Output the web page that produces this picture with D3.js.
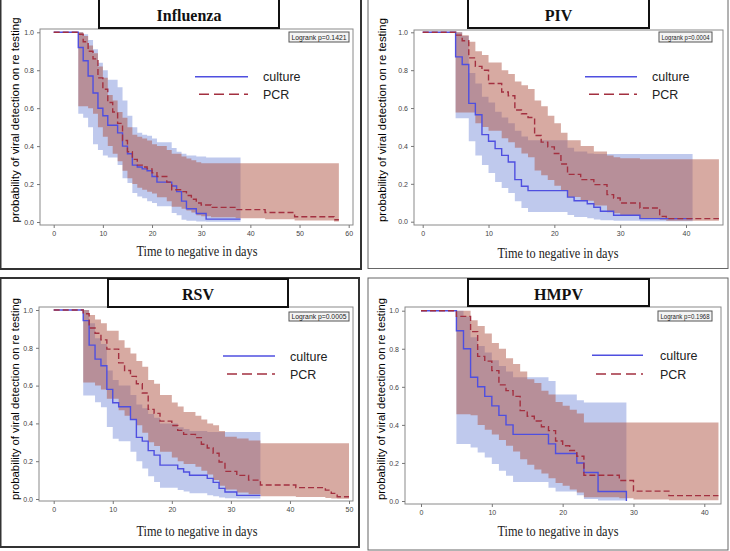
<!DOCTYPE html>
<html><head><meta charset="utf-8">
<script src="https://cdn.jsdelivr.net/npm/d3@7"></script>
<style>body{margin:0;background:#fff}svg{display:block}</style>
</head><body>
<svg id="c" width="730" height="551"></svg>
<script>
// ---------- DATA ----------
// Influenza
const fluCultureT  = [0,5,6,7,8,9,10,11,13,14,15,16,17,18,19,20,21,24,25,26,27,29,31];
const fluCultureS  = [1,0.92,0.85,0.77,0.68,0.60,0.56,0.51,0.47,0.40,0.36,0.30,0.29,0.28,0.27,0.24,0.21,0.19,0.16,0.11,0.07,0.045,0.015];
const fluCultureLo = [1,0.57,0.55,0.50,0.41,0.38,0.35,0.34,0.30,0.23,0.205,0.153,0.135,0.125,0.11,0.10,0.083,0.047,0.035,0.012,0.006,0.003,0.001];
const fluCultureHi = [1,1.0,0.99,0.96,0.91,0.84,0.80,0.75,0.71,0.64,0.56,0.50,0.47,0.46,0.455,0.44,0.42,0.39,0.37,0.36,0.35,0.345,0.34];
const fluCultureEnd = 38;
const fluPcrT  = [0,5,6,7,8,9,10,11,12,13,14,15,16,17,18,19,20,21,23,24,26,27,28,29,30,32,37,43,49,57];
const fluPcrS  = [1,0.99,0.95,0.90,0.86,0.76,0.70,0.63,0.58,0.52,0.43,0.37,0.33,0.30,0.29,0.28,0.26,0.24,0.21,0.17,0.16,0.14,0.12,0.10,0.09,0.077,0.065,0.05,0.028,0.012];
const fluPcrLo = [1,0.61,0.61,0.60,0.57,0.50,0.45,0.40,0.36,0.32,0.27,0.23,0.20,0.18,0.17,0.16,0.15,0.13,0.11,0.08,0.07,0.06,0.05,0.035,0.03,0.025,0.02,0.015,0.008,0.003];
const fluPcrHi = [1,1.0,0.98,0.93,0.89,0.82,0.76,0.67,0.64,0.58,0.55,0.50,0.46,0.45,0.44,0.43,0.41,0.40,0.38,0.36,0.345,0.335,0.325,0.315,0.31,0.31,0.31,0.31,0.31,0.31];
const fluPcrEnd = 58;
const fluTicks = [0,10,20,30,40,50,60];

// PIV
const pivCultureT  = [0,5,6,7,8,9,10,11,12,13,14,15,16,22,23,25,26,27,29,33];
const pivCultureS  = [1,0.87,0.83,0.625,0.565,0.46,0.425,0.386,0.35,0.315,0.222,0.187,0.164,0.13,0.111,0.095,0.076,0.055,0.034,0.016];
const pivCultureLo = [1,0.546,0.546,0.425,0.35,0.30,0.257,0.21,0.178,0.152,0.108,0.072,0.051,0.035,0.025,0.018,0.012,0.008,0.005,0.002];
const pivCultureHi = [1,1.0,0.98,0.785,0.73,0.66,0.63,0.58,0.55,0.52,0.48,0.45,0.43,0.39,0.37,0.36,0.357,0.357,0.357,0.357];
const pivCultureEnd = 41;
const pivPcrT  = [0,5,6,7,8,9,10,12,13,14,15,16,17,18,19,20,21,22,24,26,28,29,30,33,36,37];
const pivPcrS  = [1,0.985,0.955,0.865,0.82,0.80,0.73,0.685,0.665,0.59,0.57,0.55,0.455,0.42,0.395,0.36,0.305,0.25,0.222,0.196,0.143,0.125,0.099,0.072,0.028,0.016];
const pivPcrLo = [1,0.576,0.576,0.576,0.52,0.50,0.48,0.44,0.42,0.39,0.36,0.34,0.27,0.245,0.22,0.19,0.165,0.13,0.11,0.085,0.05,0.045,0.035,0.02,0.01,0.005];
const pivPcrHi = [1,1.0,0.985,0.95,0.90,0.88,0.84,0.80,0.78,0.74,0.72,0.70,0.64,0.61,0.56,0.52,0.47,0.43,0.40,0.37,0.35,0.34,0.335,0.33,0.33,0.33];
const pivPcrEnd = 45;
const pivTicks = [0,10,20,30,40];

// RSV
const rsvCultureT  = [0,5,6,7,8,9,10,11,13,14,15,16,17,18,21,22,23,26,27,28,29,31];
const rsvCultureS  = [1,0.944,0.814,0.74,0.705,0.58,0.509,0.488,0.421,0.326,0.306,0.256,0.232,0.179,0.16,0.143,0.126,0.109,0.088,0.056,0.037,0.019];
const rsvCultureLo = [1,0.547,0.547,0.512,0.486,0.381,0.319,0.305,0.25,0.20,0.161,0.12,0.09,0.06,0.047,0.04,0.03,0.02,0.015,0.008,0.004,0.002];
const rsvCultureHi = [1,1.0,0.93,0.85,0.82,0.68,0.63,0.60,0.55,0.50,0.48,0.45,0.43,0.40,0.38,0.37,0.36,0.355,0.355,0.355,0.355,0.355];
const rsvCultureEnd = 35;
const rsvPcrT  = [0,5,6,7,8,9,11,12,13,14,15,16,17,18,20,21,22,24,25,26,27,28,29,31,33,35,41,46,47,48];
const rsvPcrS  = [1,0.98,0.905,0.877,0.842,0.793,0.72,0.68,0.649,0.61,0.561,0.474,0.453,0.412,0.389,0.363,0.342,0.325,0.29,0.27,0.242,0.196,0.146,0.125,0.10,0.074,0.06,0.047,0.03,0.012];
const rsvPcrLo = [1,0.617,0.617,0.60,0.58,0.53,0.47,0.44,0.42,0.39,0.35,0.30,0.28,0.25,0.22,0.20,0.185,0.17,0.15,0.13,0.10,0.07,0.05,0.035,0.025,0.015,0.01,0.005,0.003,0.001];
const rsvPcrHi = [1,1.0,0.974,0.95,0.93,0.89,0.84,0.80,0.77,0.73,0.70,0.63,0.61,0.55,0.51,0.49,0.46,0.44,0.42,0.40,0.39,0.36,0.33,0.32,0.31,0.295,0.295,0.295,0.295,0.295];
const rsvPcrEnd = 50;
const rsvTicks = [0,10,20,30,40,50];

// HMPV
const hmpvCultureT  = [0,5,6,7,8,9,10,11,12,13,18,19,22,23,25,29];
const hmpvCultureS  = [1,0.895,0.80,0.65,0.60,0.55,0.50,0.45,0.40,0.35,0.30,0.25,0.20,0.15,0.05,0.0];
const hmpvCultureLo = [1,0.30,0.30,0.281,0.255,0.229,0.194,0.159,0.133,0.10,0.07,0.05,0.03,0.01,0.003,0.0];
const hmpvCultureHi = [1,1.0,0.97,0.86,0.815,0.78,0.74,0.71,0.68,0.65,0.63,0.56,0.53,0.517,0.517,0.517];
const hmpvCultureEnd = 29;
const hmpvPcrT  = [0,5,7,8,9,10,11,12,13,14,15,16,17,18,19,20,21,22,23,28,30,35];
const hmpvPcrS  = [1,0.97,0.89,0.76,0.735,0.685,0.61,0.58,0.55,0.475,0.445,0.42,0.39,0.37,0.315,0.29,0.265,0.235,0.135,0.108,0.052,0.028];
const hmpvPcrLo = [1,0.456,0.45,0.40,0.375,0.35,0.32,0.29,0.26,0.22,0.19,0.165,0.145,0.12,0.095,0.08,0.06,0.045,0.02,0.015,0.008,0.004];
const hmpvPcrHi = [1,1.0,0.95,0.92,0.88,0.83,0.80,0.75,0.72,0.68,0.64,0.62,0.58,0.56,0.52,0.50,0.48,0.46,0.413,0.413,0.413,0.413];
const hmpvPcrEnd = 42;
const hmpvTicks = [0,10,20,30,40];

const yTicks = [0,0.2,0.4,0.6,0.8,1.0];
const titles = ["Influenza","PIV","RSV","HMPV"];
const logranks = ["Logrank p=0.1421","Logrank p=0.0004","Logrank p=0.0005","Logrank p=0.1968"];
const seriesNames = ["culture","PCR"];
const yTitle = "probability of viral detection on re testing";
const xTitle = "Time to negative in days";

// ---------- LAYOUT ----------
const layout = [
 {outer:[0.5,-2,361,269], oc:"#333", ow:2, tbox:[99,-2,279,28], tb:21, frame:[40,29,353,225], xd:[0,60], xr:[53.7,348.7], yr:[222,32.3],
  lr:[289,32,349,42], leg:[195,248,76.7,94.3,263], yt:[19,120,205], xt:[197,256]},
 {outer:[368,-2,728,268.5], oc:"#666", ow:1, tbox:[468,-2,649,28], tb:21, frame:[414,30,723,225], xd:[0,40], xr:[422.7,686], yr:[221.7,32.3],
  lr:[659,32,712,42], leg:[585,637,76.7,94.3,652], yt:[386,120,204], xt:[558,258]},
 {outer:[0.5,278,359,547], oc:"#333", ow:2, tbox:[108,279,288,307], tb:300, frame:[39,307,353,501], xd:[0,50], xr:[53.7,349], yr:[499,310],
  lr:[289,312,349,321], leg:[223,275,356,374,290], yt:[19,399,202], xt:[197,536]},
 {outer:[368,278,728,550], oc:"#666", ow:1, tbox:[468,279,649,306], tb:300, frame:[405,307,721,504], xd:[0,40], xr:[421,704.3], yr:[501,310.7],
  lr:[658,311,712,321], leg:[592,643,355.3,374,660], yt:[385,399,202], xt:[558,536]}
];

const data = [
 {c:[fluCultureT,fluCultureS,fluCultureLo,fluCultureHi,fluCultureEnd], p:[fluPcrT,fluPcrS,fluPcrLo,fluPcrHi,fluPcrEnd], ticks:fluTicks},
 {c:[pivCultureT,pivCultureS,pivCultureLo,pivCultureHi,pivCultureEnd], p:[pivPcrT,pivPcrS,pivPcrLo,pivPcrHi,pivPcrEnd], ticks:pivTicks},
 {c:[rsvCultureT,rsvCultureS,rsvCultureLo,rsvCultureHi,rsvCultureEnd], p:[rsvPcrT,rsvPcrS,rsvPcrLo,rsvPcrHi,rsvPcrEnd], ticks:rsvTicks},
 {c:[hmpvCultureT,hmpvCultureS,hmpvCultureLo,hmpvCultureHi,hmpvCultureEnd], p:[hmpvPcrT,hmpvPcrS,hmpvPcrLo,hmpvPcrHi,hmpvPcrEnd], ticks:hmpvTicks}
];

const BLUE = "#4f4fe0", RED = "#a33040";
const BLUEFILL = "rgb(95,120,210)", REDFILL = "rgb(175,85,70)";
const svg = d3.select("#c");

function bandPts(s){
  const [t,S,lo,hi,end] = s;
  const pts = [];
  for(let i=1;i<t.length;i++) pts.push({t:t[i], lo:lo[i], hi:hi[i]});
  pts.push({t:end, lo:lo[lo.length-1], hi:hi[hi.length-1]});
  return pts;
}
function linePts(s){
  const [t,S,lo,hi,end] = s;
  const pts = t.map((d,i)=>({t:d, v:S[i]}));
  pts.push({t:end, v:S[S.length-1]});
  return pts;
}

layout.forEach((L,k)=>{
  const D = data[k];
  const g = svg.append("g");
  g.append("rect").attr("x",L.outer[0]).attr("y",L.outer[1]).attr("width",L.outer[2]-L.outer[0]).attr("height",L.outer[3]-L.outer[1])
    .attr("fill","none").attr("stroke",L.oc).attr("stroke-width",L.ow);
  const x = d3.scaleLinear().domain(L.xd).range(L.xr);
  const y = d3.scaleLinear().domain([0,1]).range(L.yr);
  const [fx0,fy0,fx1,fy1] = L.frame;

  const area = d3.area().curve(d3.curveStepAfter).x(d=>x(d.t)).y0(d=>y(d.lo)).y1(d=>y(d.hi));
  g.append("path").attr("d",area(bandPts(D.c))).attr("fill",BLUEFILL).attr("fill-opacity",0.4);
  g.append("path").attr("d",area(bandPts(D.p))).attr("fill",REDFILL).attr("fill-opacity",0.5);

  const line = d3.line().curve(d3.curveStepAfter).x(d=>x(d.t)).y(d=>y(d.v));
  g.append("path").attr("d",line(linePts(D.c))).attr("fill","none").attr("stroke",BLUE).attr("stroke-width",1.4);
  g.append("path").attr("d",line(linePts(D.p))).attr("fill","none").attr("stroke",RED).attr("stroke-width",1.4).attr("stroke-dasharray","6,3");

  g.append("rect").attr("x",fx0).attr("y",fy0).attr("width",fx1-fx0).attr("height",fy1-fy0)
    .attr("fill","none").attr("stroke","#8a8a8a").attr("stroke-width",1);

  const ya = g.append("g").attr("transform",`translate(${fx0},0)`)
    .call(d3.axisLeft(y).tickValues(yTicks).tickFormat(d3.format(".1f")).tickSize(3).tickPadding(3));
  const xa = g.append("g").attr("transform",`translate(0,${fy1})`)
    .call(d3.axisBottom(x).tickValues(D.ticks).tickFormat(d3.format("d")).tickSize(3).tickPadding(3));
  [ya,xa].forEach(a=>{
    a.select(".domain").remove();
    a.selectAll(".tick line").attr("stroke","#777");
    a.selectAll(".tick text").attr("fill","#444").style("font-family","'Liberation Sans',Arial,sans-serif").style("font-size","7px");
  });

  g.append("rect").attr("x",L.tbox[0]).attr("y",L.tbox[1]).attr("width",L.tbox[2]-L.tbox[0]).attr("height",L.tbox[3]-L.tbox[1])
    .attr("fill","#fff").attr("stroke","#111").attr("stroke-width",2);
  g.append("text").attr("x",(L.tbox[0]+L.tbox[2])/2).attr("y",L.tb).attr("text-anchor","middle")
    .style("font-family","'Liberation Serif','Times New Roman',serif").style("font-weight","bold").style("font-size","16px")
    .attr("fill","#111").text(titles[k]);

  g.append("rect").attr("x",L.lr[0]).attr("y",L.lr[1]).attr("width",L.lr[2]-L.lr[0]).attr("height",L.lr[3]-L.lr[1])
    .attr("fill","#f4f4f4").attr("stroke","#555").attr("stroke-width",1);
  g.append("text").attr("x",(L.lr[0]+L.lr[2])/2).attr("y",L.lr[3]-2.5).attr("text-anchor","middle")
    .style("font-family","'Liberation Sans',Arial,sans-serif").style("font-size","6.5px").attr("fill","#222")
    .attr("textLength",L.lr[2]-L.lr[0]-5).attr("lengthAdjust","spacingAndGlyphs").text(logranks[k]);

  const [lx0,lx1,ly1,ly2,tx] = L.leg;
  g.append("line").attr("x1",lx0).attr("x2",lx1).attr("y1",ly1).attr("y2",ly1).attr("stroke",BLUE).attr("stroke-width",1.6);
  g.append("line").attr("x1",lx0+4).attr("x2",lx1).attr("y1",ly2).attr("y2",ly2).attr("stroke",RED).attr("stroke-width",1.6).attr("stroke-dasharray","10,5");
  g.append("text").attr("x",tx).attr("y",ly1+4.5).style("font-family","'Liberation Sans',Arial,sans-serif").style("font-size","12.5px").attr("fill","#222").text(seriesNames[0]);
  g.append("text").attr("x",tx).attr("y",ly2+4.5).style("font-family","'Liberation Sans',Arial,sans-serif").style("font-size","12.5px").attr("fill","#222").text(seriesNames[1]);

  g.append("text").attr("transform",`translate(${L.yt[0]},${L.yt[1]}) rotate(-90)`).attr("text-anchor","middle")
    .style("font-family","'Liberation Sans',Arial,sans-serif").style("font-size","11px").attr("fill","#000")
    .attr("textLength",L.yt[2]).attr("lengthAdjust","spacingAndGlyphs").text(yTitle);
  g.append("text").attr("x",L.xt[0]).attr("y",L.xt[1]).attr("text-anchor","middle")
    .style("font-family","'Liberation Serif','Times New Roman',serif").style("font-size","14px").attr("fill","#222")
    .attr("textLength",121).attr("lengthAdjust","spacingAndGlyphs").text(xTitle);
});
</script>
</body></html>
